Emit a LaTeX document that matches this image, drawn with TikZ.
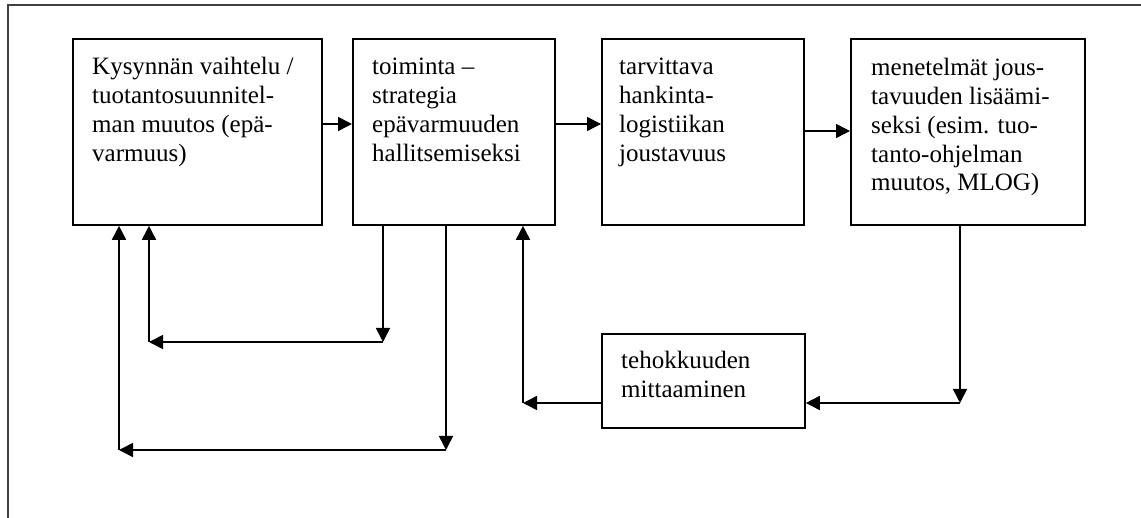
\documentclass[tikz,border=0pt]{standalone}
\usepackage{fontspec}
\setmainfont{Liberation Serif}
\usetikzlibrary{arrows.meta}
\tikzset{
  box/.style={draw, line width=1.8pt, rectangle, inner sep=0pt, anchor=north west},
  lbl/.style={inner sep=0pt, anchor=base west},
  arr/.style={line width=1.6pt, -{Triangle[length=14pt,width=14pt]}},
  frame/.style={line width=1.6pt, draw=black!75}
}
\newcommand{\boxtext}[2]{\parbox[t]{#1pt}{\fontsize{25}{28.7}\selectfont\raggedright #2}}
\begin{document}
\begin{tikzpicture}[x=1pt,y=-1pt]
\useasboundingbox (0,0) rectangle (1141,518);
\draw[frame] (1141,5) -- (8,5) -- (8,518);
% boxes
\node[box, minimum width=249pt, minimum height=186pt] (b1) at (72,38) {};
\node[box, minimum width=202pt, minimum height=186pt] (b2) at (352,38) {};
\node[box, minimum width=202pt, minimum height=186pt] (b3) at (601,38) {};
\node[box, minimum width=234pt, minimum height=186pt] (b4) at (850,38) {};
\node[box, minimum width=203pt, minimum height=94pt] (b5) at (601,333) {};
% texts
\node[lbl] (t1) at (92,75) {\boxtext{225}{Kysynnän vaihtelu /\\tuotantosuunnitel-\\man muutos (epä-\\varmuus)}};
\node[lbl] (t2) at (372,75) {\boxtext{180}{toiminta –\\strategia\\epävarmuuden\\hallitsemiseksi}};
\node[lbl] (t3) at (619,75) {\boxtext{180}{tarvittava\\hankinta-\\logistiikan\\joustavuus}};
\node[lbl] (t4) at (871,76) {\boxtext{210}{menetelmät jous-\\tavuuden lisäämi-\\seksi (esim. tuo-\\tanto-ohjelman\\muutos, MLOG)}};
\node[lbl] (t5) at (621,369) {\boxtext{180}{tehokkuuden\\mittaaminen}};
% helper coordinates
\coordinate (h1) at (0,124);
\coordinate (h2) at (0,131);
\coordinate (c1) at (383,342);
\coordinate (c2) at (149,342);
\coordinate (c3) at (446,450);
\coordinate (c4) at (119,450);
\coordinate (c5) at (960,403);
\coordinate (c6) at (523,403);
% forward arrows
\draw[arr] (b1.east |- h1) -- (b2.west |- h1);
\draw[arr] (b2.east |- h1) -- (b3.west |- h1);
\draw[arr] (b3.east |- h2) -- (b4.west |- h2);
% inner loop
\draw[arr] (b2.south -| c1) -- (c1);
\draw[arr] (c1) -- (c2);
\draw[arr] (c2) -- (b1.south -| c2);
% outer loop
\draw[arr] (b2.south -| c3) -- (c3);
\draw[arr] (c3) -- (c4);
\draw[arr] (c4) -- (b1.south -| c4);
% right loop
\draw[arr] (b4.south -| c5) -- (c5);
\draw[arr] (c5) -- (b5.east |- c5);
\draw[arr] (b5.west |- c6) -- (c6);
\draw[arr] (c6) -- (b2.south -| c6);
\end{tikzpicture}
\end{document}
